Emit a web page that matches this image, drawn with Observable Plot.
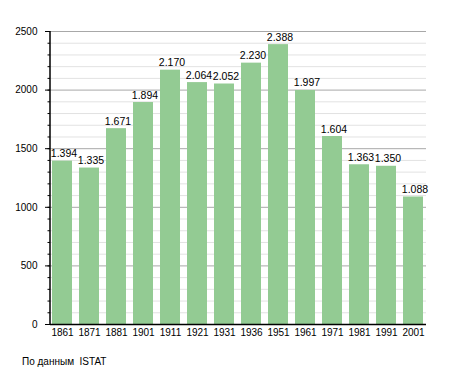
<!DOCTYPE html>
<html><head><meta charset="utf-8">
<script src="https://cdn.jsdelivr.net/npm/d3@7"></script>
<script src="https://cdn.jsdelivr.net/npm/@observablehq/plot@0.6"></script>
<style>
body{margin:0;background:#fff;font-family:"Liberation Sans",Arial,sans-serif;}
#wrap{position:relative;width:455px;height:373px;}
#cap{position:absolute;left:22px;top:356px;font-size:10px;color:#000;}
</style>
</head><body>
<div id="wrap"><div id="chart"></div><div id="cap">По данным&nbsp; ISTAT</div></div>
<script>
const years = ["1861","1871","1881","1901","1911","1921","1931","1936","1951","1961","1971","1981","1991","2001"];
const population = [1394,1335,1671,1894,2170,2064,2052,2230,2388,1997,1604,1363,1350,1088];
const majorTicks = [0,500,1000,1500,2000,2500];
const minorTicks = d3.range(0, 2501, 100);
const caption = "По данным  ISTAT";

const data = years.map((y,i)=>({year:y, pop:population[i]}));
const fmt = v => { const s = String(v); return s.length > 3 ? s.slice(0, s.length-3) + "." + s.slice(-3) : s; };

const chart = Plot.plot({
  width: 455, height: 345,
  marginLeft: 50, marginRight: 29, marginTop: 31, marginBottom: 21,
  style: {fontFamily: "'Liberation Sans', Arial, sans-serif", fontSize: "10px", background: "#fff", color: "#000"},
  x: {domain: years, paddingInner: 0.25, paddingOuter: 0.03, label: null},
  y: {domain: [0, 2500], label: null},
  marks: [
    Plot.ruleY(minorTicks.filter(d => d % 500 !== 0), {stroke: "#e2e2e2", strokeWidth: 1}),
    Plot.ruleY(majorTicks.filter(d => d > 0), {stroke: "#a8a8a8", strokeWidth: 1}),
    Plot.barY(data, {x: "year", y: "pop", fill: "#93cb93"}),
    Plot.text(data, {x: "year", y: "pop", text: d => fmt(d.pop), lineAnchor: "bottom", dy: -4, dx: 1.5, fontSize: 10.5, fill: "#000"}),
    Plot.axisY({ticks: minorTicks, tickSize: 2.5, tickFormat: () => ""}),
    Plot.axisY({ticks: majorTicks, tickSize: 5, tickPadding: 8, tickFormat: d => String(d), fontSize: 10}),
    Plot.axisX({tickSize: 0, tickPadding: 4, fontSize: 10}),
    Plot.ruleY([0], {stroke: "#000", strokeWidth: 1.5})
  ]
});
document.getElementById("chart").appendChild(chart);
// vertical axis line
const ys = chart.scale("y");
d3.select(chart).append("line")
  .attr("x1", 50).attr("x2", 50)
  .attr("y1", ys.apply(2500)).attr("y2", ys.apply(0))
  .attr("stroke", "#000").attr("stroke-width", 1.5);
</script>
</body></html>
